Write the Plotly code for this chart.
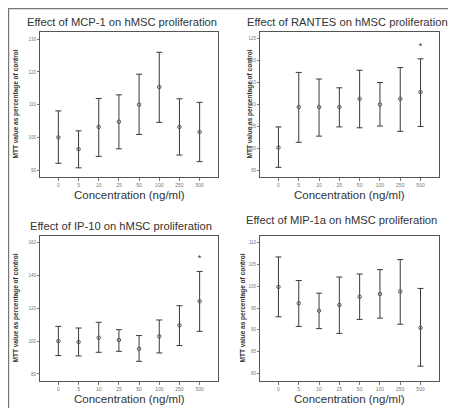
import plotly.graph_objects as go
from plotly.subplots import make_subplots

categories = ["0", "5", "10", "25", "50", "100", "250", "500"]

titles = ["Effect of MCP-1 on hMSC proliferation",
          "Effect of RANTES on hMSC proliferation",
          "Effect of IP-10 on hMSC proliferation",
          "Effect of MIP-1a on hMSC proliferation"]

mcp1_mean = [100.0, 96.4, 103.2, 104.8, 110.0, 115.4, 103.2, 101.7]
mcp1_upper = [108.1, 102.0, 111.9, 113.0, 119.3, 126.0, 111.8, 110.7]
mcp1_lower = [92.1, 90.7, 94.2, 96.5, 100.9, 104.6, 94.6, 92.6]

rantes_mean = [100.2, 109.4, 109.4, 109.4, 111.3, 110.0, 111.3, 112.8]
rantes_upper = [104.9, 117.3, 115.8, 113.8, 117.8, 115.0, 118.4, 120.4]
rantes_lower = [95.7, 101.4, 102.8, 104.9, 104.7, 105.1, 103.9, 105.0]

ip10_mean = [100.0, 99.5, 102.1, 100.7, 95.4, 102.9, 109.6, 124.3]
ip10_upper = [109.0, 108.0, 111.5, 107.0, 103.4, 112.9, 121.6, 142.5]
ip10_lower = [91.2, 91.0, 93.2, 93.8, 87.7, 92.8, 97.3, 106.0]

mip1a_mean = [99.85, 96.1, 94.4, 95.7, 97.6, 98.2, 98.8, 90.5]
mip1a_upper = [106.7, 101.3, 98.4, 102.1, 102.8, 103.8, 106.1, 99.5]
mip1a_lower = [93.0, 90.8, 90.3, 89.2, 92.4, 92.7, 91.3, 81.7]

# significance stars: (category, y)
rantes_star = ("500", 123.2)
ip10_star = ("500", 150.3)

y_ranges = [[87.9, 132.2], [93.5, 126.5], [75.7, 164.1], [78.3, 111.5]]
y_dticks = [10, 5, 20, 5]

W, H = 456, 408
fig = make_subplots(rows=2, cols=2)

series = [(mcp1_mean, mcp1_upper, mcp1_lower),
          (rantes_mean, rantes_upper, rantes_lower),
          (ip10_mean, ip10_upper, ip10_lower),
          (mip1a_mean, mip1a_upper, mip1a_lower)]
pos = [(1, 1), (1, 2), (2, 1), (2, 2)]

for i, (m, u, l) in enumerate(series):
    r, c = pos[i]
    fig.add_trace(go.Scatter(
        x=categories, y=m, mode="markers",
        marker=dict(symbol="circle-open", size=3.5, color="#555555", line=dict(width=1)),
        error_y=dict(type="data", symmetric=False,
                     array=[a - b for a, b in zip(u, m)],
                     arrayminus=[b - a for a, b in zip(l, m)],
                     color="#3a3a3a", thickness=1, width=3),
        showlegend=False), row=r, col=c)

for (cat, yv), (r, c) in [(rantes_star, (1, 2)), (ip10_star, (2, 1))]:
    fig.add_trace(go.Scatter(x=[cat], y=[yv], mode="text", text=["*"],
                             textfont=dict(size=9, color="#333333", family="Liberation Sans"),
                             showlegend=False), row=r, col=c)

# domains (pixels)
xdoms = {1: (32, 210), 2: (252, 431)}
ydoms = {1: (24, 169), 2: (228, 373)}

for i in range(4):
    r, c = pos[i]
    x0, x1 = xdoms[c]
    y0, y1 = ydoms[r]
    fig.update_xaxes(domain=[x0 / W, x1 / W], range=[-0.91, 7.91], type="category",
                     showline=True, mirror=True, linecolor="#555555", linewidth=1,
                     ticks="outside", ticklen=3, tickcolor="#777777",
                     tickfont=dict(size=5, color="#777777", family="Liberation Sans"),
                     showgrid=False, zeroline=False, row=r, col=c)
    fig.update_yaxes(domain=[1 - y1 / H, 1 - y0 / H], range=y_ranges[i], dtick=y_dticks[i],
                     showline=True, mirror=True, linecolor="#555555", linewidth=1,
                     ticks="outside", ticklen=2, tickcolor="#777777",
                     tickfont=dict(size=4.5, color="#777777", family="Liberation Sans"),
                     showgrid=False, zeroline=False, row=r, col=c)

title_pos = [(114, 14), (339, 14), (113, 218), (333, 212)]
ytitle_x = [7, 241, 7, 234]
for i in range(4):
    r, c = pos[i]
    x0, x1 = xdoms[c]
    y0, y1 = ydoms[r]
    tx, ty = title_pos[i]
    fig.add_annotation(x=tx / W, y=1 - ty / H, xref="paper", yref="paper",
                       text=titles[i], showarrow=False, xanchor="center", yanchor="middle",
                       font=dict(size=11.2, color="#333333", family="Liberation Sans"))
    fig.add_annotation(x=(x0 + x1) / 2 / W, y=1 - (y1 + 18) / H, xref="paper", yref="paper",
                       text="Concentration (ng/ml)", showarrow=False,
                       xanchor="center", yanchor="middle",
                       font=dict(size=11.5, color="#333333", family="Liberation Sans"))
    fig.add_annotation(x=ytitle_x[i] / W, y=1 - (y0 + y1) / 2 / H, xref="paper", yref="paper",
                       text="<b>MTT value as percentage of control</b>", showarrow=False,
                       textangle=-90, xanchor="center", yanchor="middle",
                       font=dict(size=6.5, color="#333333", family="Liberation Sans"))

fig.add_shape(type="rect", xref="paper", yref="paper", x0=0.001, y0=0.001, x1=0.999, y1=0.999,
              line=dict(color="#777777", width=1.5))

fig.update_layout(width=W, height=H, margin=dict(l=0, r=0, t=0, b=0),
                  paper_bgcolor="white", plot_bgcolor="white")

fig.write_html("out.html")
